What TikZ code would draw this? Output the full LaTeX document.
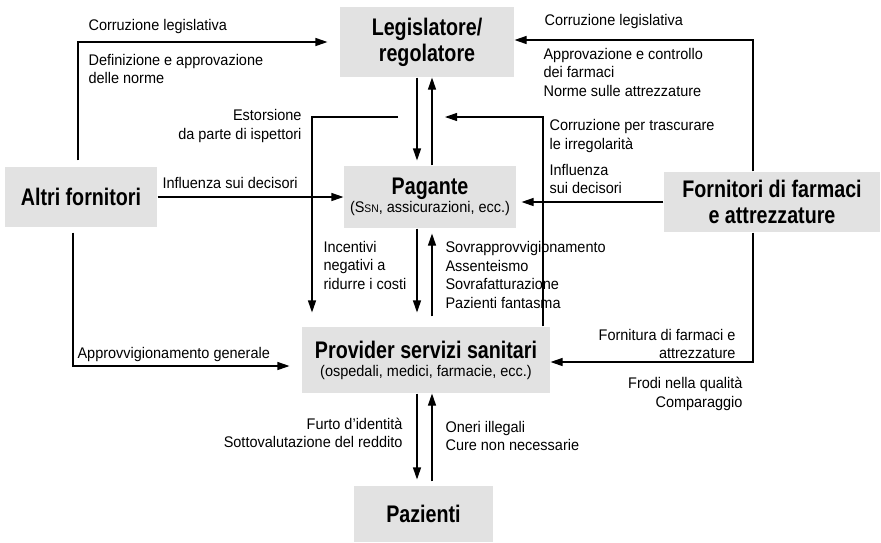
\documentclass[tikz,border=0pt]{standalone}
\usepackage{fontspec}
\setmainfont{Liberation Sans}[FakeStretch=0.94]
\newfontfamily\boxfont{Liberation Sans}[FakeStretch=0.82]
\usepackage{tikz}
\usetikzlibrary{arrows.meta}
\definecolor{boxgray}{RGB}{226,226,226}
\newcommand{\lblsize}{\fontsize{15.4}{18.5}\selectfont}
\newcommand{\boxsize}{\boxfont\bfseries\fontsize{24}{26}\selectfont}
\newcommand{\boxsub}[1]{\\[-8pt]{\normalfont\lblsize #1}}

\tikzset{
	box/.style={fill=boxgray,inner sep=0pt,align=center,font=\boxsize},
	lbl/.style={inner sep=0pt,font=\lblsize},
}

\begin{document}
\begin{tikzpicture}[x=1pt,y=-1pt,>={Triangle[length=12pt,width=8pt]},line width=1.1pt]
	\useasboundingbox (0,0) rectangle (881,542);
	% boxes
	\node [box,minimum width=174pt,minimum height=70pt] (leg) at (427,42) {Legislatore/\\regolatore};
	\node [box,minimum width=172pt,minimum height=62pt] (pag) at (430,197) {Pagante\boxsub{(S{\fontsize{11}{13}\selectfont SN}, assicurazioni, ecc.)}};
	\node [box,minimum width=152pt,minimum height=60pt] (alt) at (81,197) {Altri fornitori};
	\node [box,minimum width=216pt,minimum height=60pt] (forn) at (772,202) {Fornitori di farmaci\\e attrezzature};
	\node [box,minimum width=248pt,minimum height=66pt] (prov) at (426,360) {Provider servizi sanitari\boxsub{(ospedali, medici, farmacie, ecc.)}};
	\node [box,minimum width=139pt,minimum height=56pt] (paz) at (423.5,514) {Pazienti};
	% central column
	\coordinate (dn) at (417,0);
	\coordinate (up) at (432,0);
	\draw [->,shorten >=5pt] (leg.south -| dn) -- (pag.north -| dn);
	\draw [->] (pag.north -| up) -- (leg.south -| up);
	\draw [->,shorten >=14pt] (pag.south -| dn) -- (prov.north -| dn);
	\draw [->,shorten <=10pt,shorten >=5pt] (prov.north -| up) -- (pag.south -| up);
	\draw [->,shorten >=6pt] (prov.south -| dn) -- (paz.north -| dn);
	\draw [->,shorten <=4pt] (paz.north -| up) -- (prov.south -| up);
	% left side
	\draw [->,shorten <=6pt,shorten >=12pt] ([xshift=-3pt]alt.north) |- (leg.west);
	\draw [->] (alt) -- (pag);
	\draw [->,shorten <=5pt,shorten >=12pt] ([xshift=-8pt]alt.south) |- ([yshift=-6pt]prov.west);
	\coordinate (estors) at (398,117);
	\draw [->,shorten >=14pt] (estors) -| ([xshift=-114pt]prov.north);
	% right side
	\draw [->] ([xshift=-19pt]forn.north) |- ([yshift=2pt]leg.east);
	\draw [->,shorten >=5pt] (forn.west) -- (forn.west -| pag.east);
	\draw [->] ([xshift=-19pt]forn.south) |- ([yshift=-2pt]prov.east);
	\coordinate (trasc) at (445,117);
	\draw [->] ([xshift=117pt]prov.north) |- (trasc);
	% labels
	\node [lbl,anchor=west] (corrL) at (88,27) {Corruzione legislativa};
	\node [lbl,anchor=west,align=left] (defn) at (88,69) {Definizione e approvazione\\delle norme};
	\node [lbl,anchor=east,align=right] (estorsL) at (302,126) {Estorsione\\da parte di ispettori};
	\node [lbl,anchor=west] (inflL) at (162,183) {Influenza sui decisori};
	\node [lbl,anchor=west,align=left] (incent) at (323,265) {Incentivi\\negativi a\\ridurre i costi};
	\node [lbl,anchor=west,align=left] (sovra) at (445,275) {Sovrapprovvigionamento\\Assenteismo\\Sovrafatturazione\\Pazienti fantasma};
	\node [lbl,anchor=west] (corrR) at (544,22) {Corruzione legislativa};
	\node [lbl,anchor=west,align=left] (appr) at (543,72) {Approvazione e controllo\\dei farmaci\\Norme sulle attrezzature};
	\node [lbl,anchor=west,align=left] (trascL) at (549,136) {Corruzione per trascurare\\le irregolarità};
	\node [lbl,anchor=west,align=left] (inflR) at (549,179) {Influenza\\sui decisori};
	\node [lbl,anchor=east,align=right] (fornit) at (736,344) {Fornitura di farmaci e\\attrezzature};
	\node [lbl,anchor=east,align=right] (frodi) at (743,394) {Frodi nella qualità\\Comparaggio};
	\node [lbl,anchor=west] (approvv) at (77,355) {Approvvigionamento generale};
	\node [lbl,anchor=east,align=right] (furto) at (403,433) {Furto d’identità\\Sottovalutazione del reddito};
	\node [lbl,anchor=west,align=left] (oneri) at (445,436) {Oneri illegali\\Cure non necessarie};
\end{tikzpicture}
\end{document}
